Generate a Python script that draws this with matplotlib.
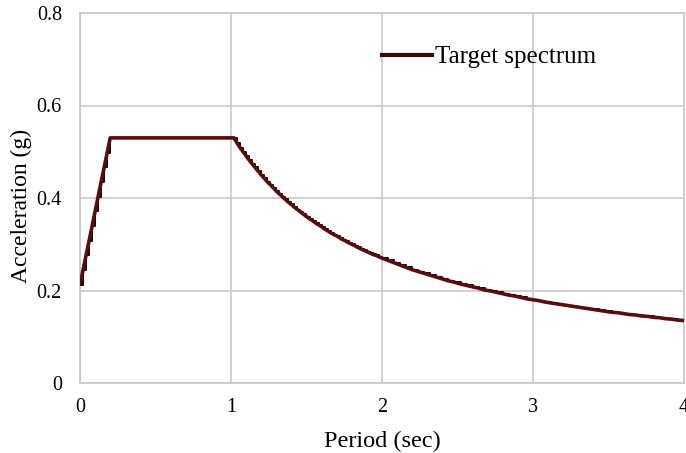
import matplotlib
matplotlib.use("Agg")
import matplotlib.pyplot as plt
from matplotlib.lines import Line2D

# Period (sec)
period = [0.00, 0.02, 0.04, 0.06, 0.08, 0.10, 0.12, 0.14, 0.16, 0.18, 0.20,
          1.02, 1.04, 1.06, 1.08, 1.10, 1.12, 1.14, 1.16, 1.18, 1.20,
          1.22, 1.24, 1.26, 1.28, 1.30, 1.32, 1.34, 1.36, 1.38, 1.40,
          1.42, 1.44, 1.46, 1.48, 1.50, 1.52, 1.54, 1.56, 1.58, 1.60,
          1.62, 1.64, 1.66, 1.68, 1.70, 1.72, 1.74, 1.76, 1.78, 1.80,
          1.82, 1.84, 1.86, 1.88, 1.90, 1.92, 1.94, 1.96, 1.98, 2.00,
          2.04, 2.08, 2.12, 2.16, 2.20, 2.24, 2.28, 2.32, 2.36, 2.40,
          2.44, 2.48, 2.52, 2.56, 2.60, 2.64, 2.68, 2.72, 2.76, 2.80,
          2.84, 2.88, 2.92, 2.96, 3.00, 3.04, 3.08, 3.12, 3.16, 3.20,
          3.24, 3.28, 3.32, 3.36, 3.40, 3.44, 3.48, 3.52, 3.56, 3.60,
          3.64, 3.68, 3.72, 3.76, 3.80, 3.84, 3.88, 3.92, 3.96, 4.00]

# Spectral acceleration (g)
accel = [0.212, 0.244, 0.276, 0.307, 0.339, 0.371, 0.403, 0.435, 0.466, 0.498, 0.530,
         0.530, 0.519, 0.509, 0.500, 0.491, 0.482, 0.474, 0.466, 0.458, 0.450,
         0.443, 0.435, 0.429, 0.422, 0.415, 0.409, 0.403, 0.397, 0.391, 0.386,
         0.380, 0.375, 0.370, 0.365, 0.360, 0.355, 0.351, 0.346, 0.342, 0.338,
         0.333, 0.329, 0.325, 0.321, 0.318, 0.314, 0.310, 0.307, 0.303, 0.300,
         0.297, 0.293, 0.290, 0.287, 0.284, 0.281, 0.278, 0.276, 0.273, 0.270,
         0.265, 0.260, 0.255, 0.250, 0.245, 0.241, 0.237, 0.233, 0.229, 0.225,
         0.221, 0.218, 0.214, 0.211, 0.208, 0.205, 0.201, 0.199, 0.196, 0.193,
         0.190, 0.188, 0.185, 0.182, 0.180, 0.178, 0.175, 0.173, 0.171, 0.169,
         0.167, 0.165, 0.163, 0.161, 0.159, 0.157, 0.155, 0.153, 0.152, 0.150,
         0.148, 0.147, 0.145, 0.144, 0.142, 0.141, 0.139, 0.138, 0.136, 0.135]

x_ticks = [0, 1, 2, 3, 4]
y_ticks = [0, 0.2, 0.4, 0.6, 0.8]
x_tick_labels = ["0", "1", "2", "3", "4"]
y_tick_labels = ["0", "0.2", "0.4", "0.6", "0.8"]
series_label = "Target spectrum"

plt.rcParams['font.family'] = ['Liberation Serif', 'DejaVu Serif']

fig = plt.figure(figsize=(6.86, 4.53), dpi=100)
ax = fig.add_axes([80 / 686, 70 / 453, 604 / 686, 370 / 453])

grid_c = '#c8c8c8'
ax.set_xlim(0, 4)
ax.set_ylim(0, 0.8)
ax.set_xticks(x_ticks)
ax.set_xticklabels(x_tick_labels)
ax.set_yticks(y_ticks)
ax.set_yticklabels(y_tick_labels)
ax.grid(True, color=grid_c, linewidth=1.2)
ax.set_axisbelow(True)
for s in ax.spines.values():
    s.set_color(grid_c)
    s.set_linewidth(1.2)
ax.tick_params(axis='both', length=0, labelsize=14.5, colors='black')
ax.tick_params(axis='y', pad=13)
ax.tick_params(axis='x', pad=11)

ax.step(period, accel, where='post', color='black', linewidth=1.4, zorder=3)
ax.plot(period, accel, color='#5a0b0b', linewidth=2.6, zorder=4,
        solid_capstyle='butt')

ax.set_xlabel("Period (sec)", fontsize=17.5, labelpad=10)
ax.set_ylabel("Acceleration (g)", fontsize=17)
ax.yaxis.set_label_coords(-0.080, 0.478)

handle = Line2D([], [], color='#3a0808', linewidth=3.0)
ax.legend([handle], [series_label], loc='center left',
          bbox_to_anchor=(360 / 686, 1 - 57 / 453), bbox_transform=fig.transFigure,
          frameon=False, fontsize=18, handlelength=2.0, handletextpad=0.12)

fig.savefig("out.png", dpi=100)
